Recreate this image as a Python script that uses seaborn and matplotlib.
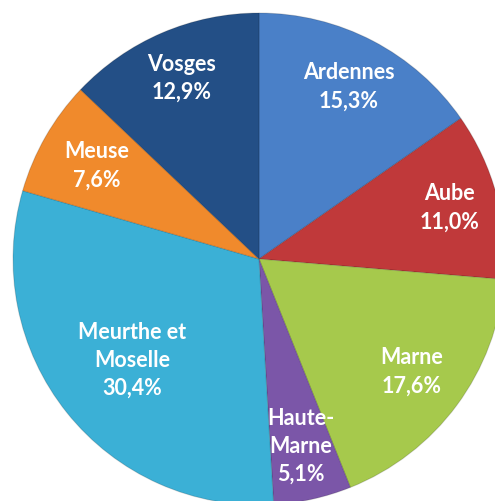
import matplotlib
matplotlib.use("Agg")
import matplotlib.pyplot as plt
import seaborn as sns
import numpy as np

departements = ["Ardennes", "Aube", "Marne", "Haute-\nMarne", "Meurthe et\nMoselle", "Meuse", "Vosges"]
parts = [15.3, 11.0, 17.6, 5.1, 30.4, 7.6, 12.9]
pct_labels = ["15,3%", "11,0%", "17,6%", "5,1%", "30,4%", "7,6%", "12,9%"]
couleurs = ["#4a80c8", "#c0393a", "#a6c94c", "#7b56a8", "#3bb0d6", "#f08a2c", "#234f86"]

sns.set_theme(style="white")
plt.rcParams["font.family"] = ["Lato", "DejaVu Sans"]

W, H = 495, 501
fig = plt.figure(figsize=(W / 100, H / 100), dpi=100)
ax = fig.add_axes([0, 0, 1, 1])

wedges, _ = ax.pie(parts, colors=couleurs, startangle=90, counterclock=False,
                   wedgeprops=dict(edgecolor=(0, 0, 0, 0.15), linewidth=0.8))

# label radial positions (fraction of radius)
label_r = [0.79, 0.80, 0.77, 0.78, 0.66, 0.76, 0.80]
for w, name, pct, r in zip(wedges, departements, pct_labels, label_r):
    ang = np.deg2rad((w.theta1 + w.theta2) / 2)
    x, y = r * np.cos(ang), r * np.sin(ang)
    ax.text(x, y, f"{name}\n{pct}", ha="center", va="center", color="white",
            fontsize=15.5, fontweight="bold", linespacing=1.42)

R = 246.0
cx, cy = 259.0, 259.0
ax.set_xlim(-cx / R, (W - cx) / R)
ax.set_ylim(-(H - cy) / R, cy / R)
ax.set_aspect("auto")
ax.axis("off")

fig.savefig("out.png", dpi=100, facecolor="white")
